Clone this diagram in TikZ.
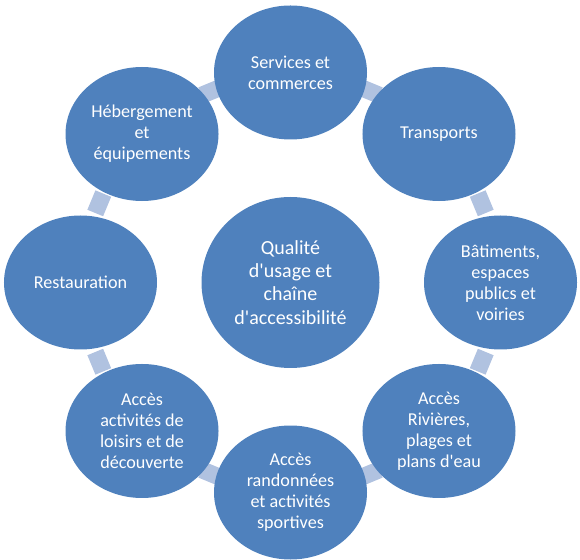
\documentclass[tikz,border=0pt]{standalone}
\usepackage{fontspec}
\setmainfont{Carlito}[Ligatures=TeXOff]
\usetikzlibrary{shapes.geometric}
\definecolor{radblue}{RGB}{79,129,189}
\definecolor{radpale}{RGB}{176,194,224}

\begin{document}
\begin{tikzpicture}[x=0.75pt,y=0.75pt,font=\fontsize{13.6}{15.75}\selectfont,every node/.style={align=center,text=white},
    bubble/.style={ellipse,fill=radblue,inner sep=0pt,minimum width=114.75pt,minimum height=100.5pt},
    link/.style={rectangle,fill=radpale,inner sep=0pt,minimum width=12.75pt,minimum height=15.75pt}]
    \useasboundingbox (-290.5,-276.5) rectangle (289.5,282.5);
    % pale tabs between the outer bubbles
    \node[link,rotate=67.5] (l1) at (67.5:207) {};
    \node[link,rotate=22.5] (l2) at (22.5:207) {};
    \node[link,rotate=-22.5] (l3) at (-22.5:207) {};
    \node[link,rotate=-67.5] (l4) at (-67.5:207) {};
    \node[link,rotate=-112.5] (l5) at (-112.5:207) {};
    \node[link,rotate=-157.5] (l6) at (-157.5:207) {};
    \node[link,rotate=157.5] (l7) at (157.5:207) {};
    \node[link,rotate=112.5] (l8) at (112.5:207) {};
    \node[ellipse,fill=radblue,inner sep=0pt,minimum width=133.5pt,minimum height=128.25pt,font=\fontsize{15}{17.4}\selectfont] (centre) at (0,0) {Qualité\\d'usage et\\chaîne\\d'accessibilité};
    \node[bubble] (services) at (90:210) {Services et\\commerces};
    \node[bubble] (transports) at (45:210) {Transports};
    \node[bubble] (batiments) at (0:210) {Bâtiments,\\espaces\\publics et\\voiries};
    \node[bubble] (rivieres) at (-45:210) {Accès\\Rivières,\\plages et\\plans d'eau};
    \node[bubble] (randonnees) at (-90:210) {Accès\\randonnées\\et activités\\sportives};
    \node[bubble] (loisirs) at (-135:210) {Accès\\activités de\\loisirs et de\\découverte};
    \node[bubble] (restauration) at (180:210) {Restauration};
    \node[bubble] (hebergement) at (135:210) {Hébergement\\et\\équipements};
  \end{tikzpicture}
\end{document}
